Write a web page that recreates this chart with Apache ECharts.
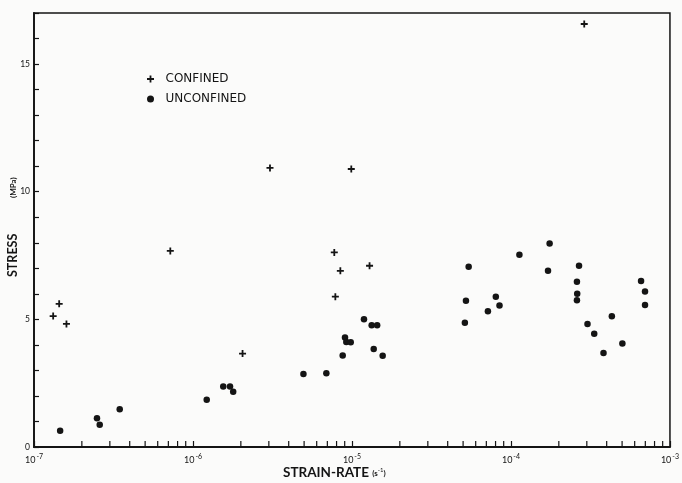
<!DOCTYPE html>
<html>
<head>
<meta charset="utf-8">
<script src="https://cdn.jsdelivr.net/npm/echarts@6/dist/echarts.min.js"></script>
<style>
html,body{margin:0;padding:0;background:#fbfbfa;}
#chart{width:682px;height:483px;}
</style>
</head>
<body>
<div id="chart"></div>
<script>
// Data (strain-rate in s^-1, stress in MPa)
const confinedRate = [1.32e-7, 1.44e-7, 1.60e-7, 7.2e-7, 2.05e-6, 3.05e-6, 9.9e-6, 7.74e-6, 8.45e-6, 1.29e-5, 7.86e-6, 2.89e-4];
const confinedStress = [5.13, 5.61, 4.82, 7.68, 3.66, 10.93, 10.89, 7.62, 6.90, 7.10, 5.89, 16.57];

const unconfinedRate = [1.46e-7, 2.49e-7, 2.59e-7, 3.46e-7, 1.22e-6, 1.55e-6, 1.71e-6, 1.79e-6, 4.95e-6, 6.90e-6,
  8.74e-6, 9.04e-6, 9.21e-6, 9.82e-6, 1.19e-5, 1.33e-5, 1.44e-5, 1.37e-5, 1.56e-5,
  5.13e-5, 5.21e-5, 5.42e-5, 7.16e-5, 8.03e-5, 8.47e-5, 1.13e-4, 1.75e-4, 1.71e-4,
  2.68e-4, 2.60e-4, 2.61e-4, 2.60e-4, 3.03e-4, 3.34e-4, 3.82e-4, 4.31e-4, 5.02e-4,
  6.58e-4, 6.97e-4, 6.97e-4];
const unconfinedStress = [0.64, 1.13, 0.87, 1.48, 1.85, 2.37, 2.37, 2.16, 2.86, 2.89,
  3.58, 4.29, 4.11, 4.10, 5.00, 4.77, 4.77, 3.84, 3.57,
  4.87, 5.73, 7.06, 5.32, 5.89, 5.54, 7.53, 7.97, 6.90,
  7.10, 6.47, 6.00, 5.75, 4.82, 4.44, 3.68, 5.12, 4.05,
  6.50, 6.09, 5.56];

// Axis tick values
const xMajorTicks = [1e-7, 1e-6, 1e-5, 1e-4, 1e-3];
const xMinorTicks = [2e-7,3e-7,4e-7,5e-7,6e-7,7e-7,8e-7,9e-7,
  2e-6,3e-6,4e-6,5e-6,6e-6,7e-6,8e-6,9e-6,
  2e-5,3e-5,4e-5,5e-5,6e-5,7e-5,8e-5,9e-5,
  2e-4,3e-4,4e-4,5e-4,6e-4,7e-4,8e-4,9e-4];
const yLabelTicks = [0, 5, 10, 15];

const seriesNames = ['CONFINED', 'UNCONFINED'];
const xTitle = 'STRAIN-RATE';
const xTitleUnit = '(s';
const xTitleSup = '-1';
const yTitle = 'STRESS';
const yTitleUnit = '(MPa)';

const ink = '#141414';
const font = 'Lato, "Open Sans", sans-serif';
const legendFont = '"DejaVu Sans", Lato, sans-serif';
const plusPath = 'path://M2.6,0H4.4V2.6H7V4.4H4.4V7H2.6V4.4H0V2.6H2.6Z';

const chart = echarts.init(document.getElementById('chart'), null, {renderer: 'canvas'});

chart.setOption({
  backgroundColor: '#fbfbfa',
  animation: false,
  grid: {left: 34, top: 13, width: 638, height: 434, show: true, borderColor: ink, borderWidth: 1.5, backgroundColor: 'transparent'},
  legend: {
    orient: 'vertical', left: 142, top: 68, itemGap: 8, itemWidth: 8, itemHeight: 7,
    data: seriesNames,
    textStyle: {color: ink, fontFamily: legendFont, fontSize: 12, padding: [0,0,0,6]},
    selectedMode: false
  },
  graphic: [
    {type: 'text', left: 283, top: 466, silent: true,
      style: {text: xTitle + ' {s|' + xTitleUnit + '}{sup|' + xTitleSup + '}{s|)}', fill: ink,
        font: 'bold 13.5px ' + font,
        rich: {s: {fontSize: 8, fill: ink, fontFamily: font, fontWeight: 'bold'},
               sup: {fontSize: 6, fill: ink, fontFamily: font, padding: [0,0,6,0]}}}},
    {type: 'text', x: 12.5, y: 277, rotation: Math.PI/2, silent: true,
      style: {text: yTitle, fill: ink, font: 'bold 12.5px ' + font,
        textAlign: 'left', textVerticalAlign: 'middle', verticalAlign: 'middle'}},
    {type: 'text', x: 13, y: 198, rotation: Math.PI/2, silent: true,
      style: {text: yTitleUnit, fill: ink, font: 'bold 8px ' + font,
        textAlign: 'left', textVerticalAlign: 'middle', verticalAlign: 'middle'}}
  ],
  xAxis: {
    type: 'log', logBase: 10, min: xMajorTicks[0], max: xMajorTicks[xMajorTicks.length-1],
    axisLine: {lineStyle: {color: ink, width: 1.8}},
    axisTick: {inside: true, length: 6, lineStyle: {color: ink, width: 1.2}},
    splitLine: {show: false},
    axisLabel: {
      color: ink, fontFamily: font, fontSize: 9, margin: 6,
      formatter: function (v) {
        const e = Math.round(Math.log10(v));
        return '10{sup|' + e + '}';
      },
      rich: {sup: {fontSize: 7, color: ink, fontFamily: font, padding: [0,0,7,1]}}
    }
  },
  yAxis: {
    type: 'value', min: 0, max: 17, interval: 1,
    axisLine: {show: true, lineStyle: {color: ink, width: 1.8}},
    axisTick: {inside: true, length: 5, lineStyle: {color: ink, width: 1.2}},
    splitLine: {show: false},
    axisLabel: {color: ink, fontFamily: font, fontSize: 8.5, margin: 4,
      formatter: function (v) { return yLabelTicks.indexOf(v) >= 0 ? String(v) : ''; }}
  },
  series: [
    {
      name: seriesNames[0], type: 'scatter', symbol: plusPath, symbolSize: 7,
      itemStyle: {color: ink, opacity: 1},
      data: confinedRate.map((x, i) => [x, confinedStress[i]])
    },
    {
      name: seriesNames[1], type: 'scatter', symbol: 'circle', symbolSize: 6.5,
      itemStyle: {color: ink, opacity: 1},
      data: unconfinedRate.map((x, i) => [x, unconfinedStress[i]])
    },
    {
      name: 'minorTicks', type: 'custom', silent: true, clip: false,
      data: xMinorTicks.map(v => [v, 0]),
      renderItem: function (params, api) {
        const p = api.coord([api.value(0), 0]);
        return {type: 'line', shape: {x1: p[0], y1: p[1], x2: p[0], y2: p[1] - 6},
          style: {stroke: ink, lineWidth: 1.2}};
      }
    }
  ]
});
</script>
</body>
</html>
